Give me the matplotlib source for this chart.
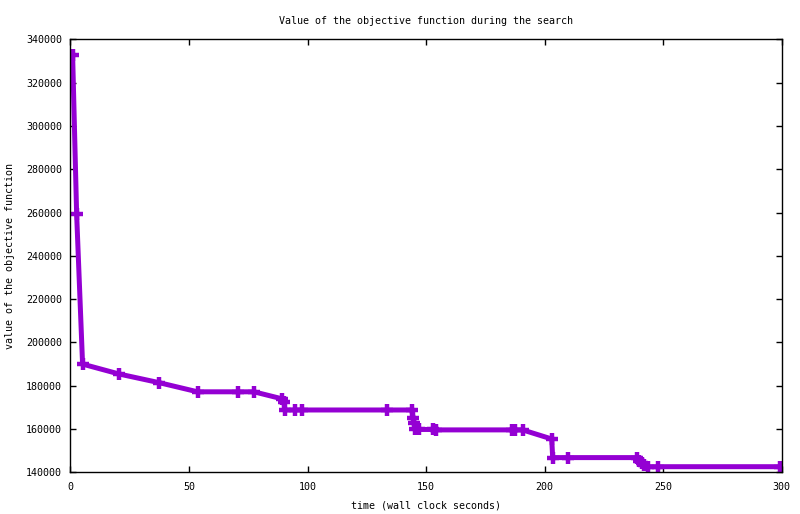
import matplotlib
matplotlib.use("Agg")
import matplotlib.pyplot as plt

# time (s) and objective value
times = [0.9, 2.6, 5.1, 20.6, 37.5, 53.6, 70.5, 77.4, 89.1, 90.0, 90.5, 94.7,
         97.8, 133.4, 143.9, 144.6, 145.0, 145.3, 147.0, 153.0, 154.2, 186.1,
         187.5, 190.7, 203.0, 203.4, 210.0, 238.8, 239.9, 240.9, 241.9, 243.7,
         247.7, 299.5]
values = [332800, 259200, 190000, 185400, 181400, 177200, 177200, 177200,
          174000, 172600, 168800, 168800, 168800, 168800, 168800, 165000,
          162600, 159800, 159800, 159800, 159600, 159600, 159600, 159600,
          155400, 146800, 146800, 146800, 145300, 144400, 143400, 142600,
          142600, 142600]

xticks = [0, 50, 100, 150, 200, 250, 300]
yticks = list(range(140000, 340001, 20000))

plt.rcParams["font.family"] = ["DejaVu Sans Mono"]
plt.rcParams["font.size"] = 7.2

fig = plt.figure(figsize=(8.0, 5.14), dpi=100)
ax = fig.add_axes([0.0881, 0.0811, 0.8890, 0.8421])

ax.plot(times, values, color="#9400d3", linewidth=3.6, marker="+",
        markersize=9, markeredgewidth=3.2)

ax.set_xlim(0, 300)
ax.set_ylim(140000, 340000)
ax.set_xticks(xticks)
ax.set_yticks(yticks)
ax.tick_params(direction="in", length=4.5, width=1, top=True, right=True,
               colors="black", labelsize=7.2)
ax.tick_params(axis="y", pad=6)
ax.tick_params(axis="x", pad=7)
for s in ax.spines.values():
    s.set_linewidth(1)

ax.set_title("Value of the objective function during the search", pad=11,
             fontsize=7.2)
ax.set_xlabel("time (wall clock seconds)", labelpad=6)
ax.set_ylabel("value of the objective function", labelpad=8)

fig.savefig("out.png", dpi=100)
